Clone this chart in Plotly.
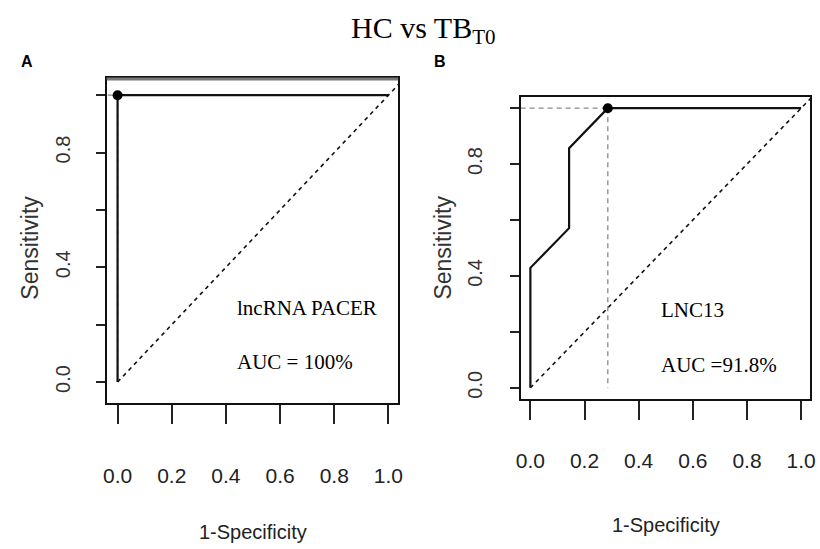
import plotly.graph_objects as go

W, H = 820, 549

# ---- data ----
pacer_fpr = [0.0, 0.0, 1.0]
pacer_sens = [0.0, 1.0, 1.0]
pacer_best = (0.0, 1.0)

lnc13_fpr = [0.0, 0.0, 0.143, 0.143, 0.286, 1.0]
lnc13_sens = [0.0, 0.429, 0.571, 0.857, 1.0, 1.0]
lnc13_best = (0.286, 1.0)

chance = [0.0, 1.2]

x_tick_vals = [0.0, 0.2, 0.4, 0.6, 0.8, 1.0]
x_tick_text = ["0.0", "0.2", "0.4", "0.6", "0.8", "1.0"]
y_tick_vals = [0.0, 0.4, 0.8]
y_tick_text = ["0.0", "0.4", "0.8"]
y_minor_vals = [0.2, 0.6, 1.0]

panel_labels = ["A", "B"]
marker_names = ["lncRNA PACER", "LNC13"]
auc_texts = ["AUC = 100%", "AUC =91.8%"]


def px(x):
    return x / W


def py(y):
    return 1 - y / H


fig = go.Figure()

panels = [
    dict(xa="x", ya="y", fpr=pacer_fpr, sens=pacer_sens, best=pacer_best),
    dict(xa="x2", ya="y2", fpr=lnc13_fpr, sens=lnc13_sens, best=lnc13_best),
]

for p in panels:
    # chance diagonal
    fig.add_trace(go.Scatter(x=chance, y=chance, mode="lines", xaxis=p["xa"], yaxis=p["ya"],
                             line=dict(color="#111", width=1.6, dash="4px,4px"), showlegend=False,
                             hoverinfo="skip"))
    bx, by = p["best"]
    # threshold guide lines
    fig.add_trace(go.Scatter(x=[-1, bx], y=[by, by], mode="lines", xaxis=p["xa"], yaxis=p["ya"],
                             line=dict(color="#888", width=1.3, dash="5px,4px"), showlegend=False,
                             hoverinfo="skip"))
    fig.add_trace(go.Scatter(x=[bx, bx], y=[by, 0], mode="lines", xaxis=p["xa"], yaxis=p["ya"],
                             line=dict(color="#888", width=1.3, dash="5px,4px"), showlegend=False,
                             hoverinfo="skip"))
    # ROC curve
    fig.add_trace(go.Scatter(x=p["fpr"], y=p["sens"], mode="lines", xaxis=p["xa"], yaxis=p["ya"],
                             line=dict(color="#111", width=2.2), showlegend=False))
    # best point
    fig.add_trace(go.Scatter(x=[bx], y=[by], mode="markers", xaxis=p["xa"], yaxis=p["ya"],
                             marker=dict(color="#000", size=10, symbol="circle"), showlegend=False))

axis_common = dict(showgrid=False, zeroline=False, showline=True, mirror=True,
                   linecolor="#111", linewidth=1.6, ticks="outside", tickcolor="#222",
                   tickmode="array")

xfont = dict(family="Liberation Sans, Arial", size=21, color="#222")
yfont = dict(family="Liberation Sans, Arial", size=20, color="#333")
yminor = dict(tickmode="array", tickvals=y_minor_vals, ticks="outside", ticklen=9, tickwidth=1.6,
              tickcolor="#222", showgrid=False)

fig.update_layout(
    width=W, height=H,
    margin=dict(l=0, r=0, t=0, b=0),
    paper_bgcolor="white", plot_bgcolor="white",
    xaxis=dict(axis_common, domain=[px(103), px(398)], range=[-0.04, 1.036], anchor="y",
               tickvals=x_tick_vals, ticktext=x_tick_text, ticklen=19, tickwidth=1.6, tickfont=xfont,
               ticklabelstandoff=34),
    yaxis=dict(axis_common, domain=[py(403), py(78)], range=[-0.073, 1.06], anchor="x",
               tickvals=y_tick_vals, ticktext=y_tick_text, ticklen=9, tickwidth=1.6, tickfont=yfont,
               tickangle=-90, ticklabelstandoff=18, minor=yminor),
    xaxis2=dict(axis_common, domain=[px(522), px(815)], range=[-0.036, 1.033], anchor="y2",
                tickvals=x_tick_vals, ticktext=x_tick_text, ticklen=19, tickwidth=1.6, tickfont=xfont,
                ticklabelstandoff=23),
    yaxis2=dict(axis_common, domain=[py(399), py(97)], range=[-0.04, 1.04], anchor="x2",
                tickvals=y_tick_vals, ticktext=y_tick_text, ticklen=9, tickwidth=1.6, tickfont=yfont,
                tickangle=-90, ticklabelstandoff=20, minor=yminor),
)

# thick grey top border on panel A
fig.add_shape(type="line", xref="paper", yref="paper", x0=px(103), x1=px(398), y0=py(79), y1=py(79),
              line=dict(color="#777", width=3))

serif = "Liberation Serif, Times New Roman, serif"
ann = []
# title
ann.append(dict(x=px(423), y=py(30), text="HC vs TB<sub>T0</sub>",
                font=dict(family=serif, size=30, color="#000"), xanchor="center", yanchor="middle"))
# panel letters
for lbl, x in zip(panel_labels, [22, 440]):
    ann.append(dict(x=px(x), y=py(62), text="<b>%s</b>" % lbl,
                    font=dict(family="Liberation Sans, Arial", size=16, color="#000"),
                    xanchor="center", yanchor="middle"))
# axis titles
for x in [25, 443]:
    ann.append(dict(x=px(x), y=py(248), text="Sensitivity", textangle=-90,
                    font=dict(family="Liberation Sans, Arial", size=23, color="#333"),
                    xanchor="center", yanchor="middle"))
for x, y in [(251, 532), (669, 525)]:
    ann.append(dict(x=px(x), y=py(y), text="1-Specificity",
                    font=dict(family="Liberation Sans, Arial", size=20, color="#222"),
                    xanchor="center", yanchor="middle"))
# in-plot labels
for name, auc, x, y1, y2 in zip(marker_names, auc_texts, [233, 662], [308, 310], [362, 365]):
    ann.append(dict(x=px(x), y=py(y1), text=name, xanchor="left", yanchor="middle",
                    font=dict(family=serif, size=21, color="#000")))
    ann.append(dict(x=px(x), y=py(y2), text=auc, xanchor="left", yanchor="middle",
                    font=dict(family=serif, size=21, color="#000")))

for a in ann:
    a.update(xref="paper", yref="paper", showarrow=False)

fig.update_layout(annotations=ann)

fig.write_html("out.html")
